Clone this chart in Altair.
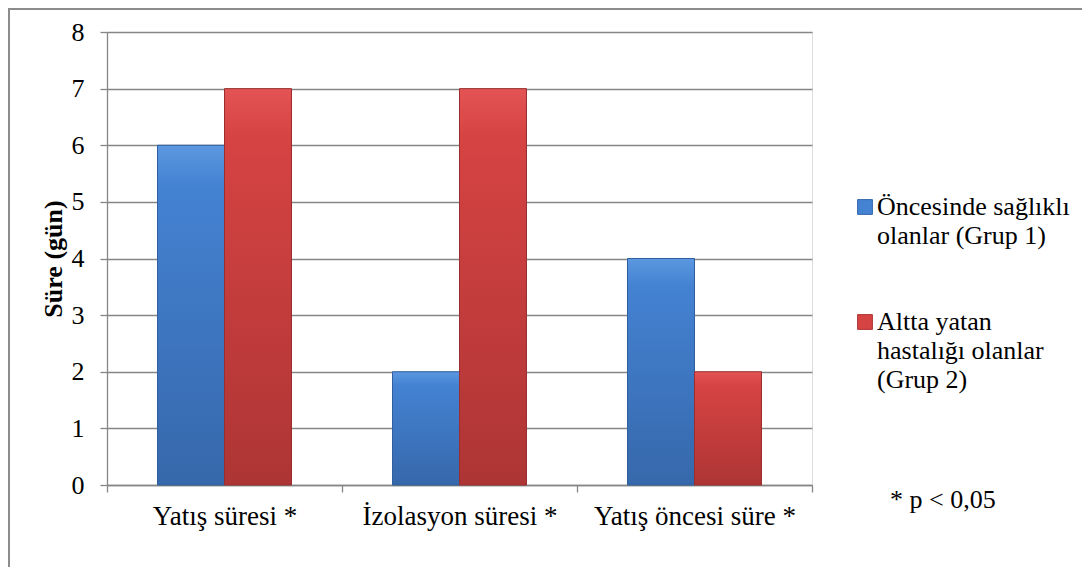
import altair as alt
import pandas as pd

categories = ["Yatış süresi *", "İzolasyon süresi *", "Yatış öncesi süre *"]
series = ["Öncesinde sağlıklı olanlar (Grup 1)", "Altta yatan hastalığı olanlar (Grup 2)"]
group1_values = [6, 2, 4]
group2_values = [7, 7, 2]
legend_lines = [["Öncesinde sağlıklı", "olanlar (Grup 1)"],
                ["Altta yatan", "hastalığı olanlar", "(Grup 2)"]]
y_ticks = [0, 1, 2, 3, 4, 5, 6, 7, 8]
note = "* p < 0,05"

FONT = "Liberation Serif"
FS = 26
BLUE_STOPS = ["#5c98e0", "#4482d2", "#3668ab"]
RED_STOPS = ["#e45454", "#d64343", "#ae3535"]

rows = []
for c, v in zip(categories, group1_values):
    rows.append({"kategori": c, "grup": series[0], "deger": v})
for c, v in zip(categories, group2_values):
    rows.append({"kategori": c, "grup": series[1], "deger": v})
df = pd.DataFrame(rows)

def grad(stops):
    return alt.Gradient(
        gradient="linear", x1=0, x2=0, y1=0, y2=1,
        stops=[alt.GradientStop(color=stops[0], offset=0),
               alt.GradientStop(color=stops[1], offset=0.12),
               alt.GradientStop(color=stops[2], offset=1)])

x_enc = alt.X("kategori:N", sort=categories, title=None,
              scale=alt.Scale(paddingInner=0, paddingOuter=0),
              axis=alt.Axis(labelAngle=0, tickBand="extent", grid=False, labelLimit=0,
                            labelFont=FONT, labelFontSize=27, labelColor="#000",
                            labelPadding=11, tickSize=7, tickColor="#868686",
                            domainColor="#868686", domainWidth=1.3, tickWidth=1.3))
y_enc = alt.Y("deger:Q", title="Süre (gün)",
              scale=alt.Scale(domain=[0, 8], nice=False),
              axis=alt.Axis(values=y_ticks, grid=True, gridColor="#868686", gridWidth=1.3,
                            labelFont=FONT, labelFontSize=FS, labelColor="#000",
                            labelPadding=16, tickSize=7, tickColor="#868686", tickWidth=1.3,
                            domainColor="#868686", domainWidth=1.3,
                            titleFont=FONT, titleFontSize=FS, titleFontWeight="bold",
                            titleColor="#000", titlePadding=5))
xo_enc = alt.XOffset("grup:N", sort=series,
                     scale=alt.Scale(domain=series, paddingInner=0, paddingOuter=0.754))

base = alt.Chart(df)
bars1 = base.transform_filter(alt.datum.grup == series[0]).mark_bar(
    fill=grad(BLUE_STOPS), stroke="#2f5f9e", strokeWidth=1
).encode(x=x_enc, y=y_enc, xOffset=xo_enc)
bars2 = base.transform_filter(alt.datum.grup == series[1]).mark_bar(
    fill=grad(RED_STOPS), stroke="#9a2e2e", strokeWidth=1
).encode(x=x_enc, y=y_enc, xOffset=xo_enc)

leg_df = pd.DataFrame({"grup": series, "lines": legend_lines})
leg_layers = []
sym_y = [175, 290]
for s, stops, ys in zip(series, [BLUE_STOPS, RED_STOPS], sym_y):
    sub = alt.Chart(leg_df).transform_filter(alt.datum.grup == s)
    leg_layers.append(sub.mark_point(shape="square", filled=True, size=220,
                                     color=stops[1], stroke=stops[2], strokeWidth=1, opacity=1)
                      .encode(x=alt.value(758), y=alt.value(ys)))
    leg_layers.append(sub.mark_text(font=FONT, fontSize=FS, align="left", baseline="alphabetic",
                                    lineHeight=29, color="#000")
                      .encode(x=alt.value(770), y=alt.value(ys + 8), text="lines:N"))

note_layer = alt.Chart(pd.DataFrame({"t": [note]})).mark_text(
    font=FONT, fontSize=FS, align="left", baseline="alphabetic", color="#000"
).encode(x=alt.value(783), y=alt.value(476), text="t:N")

frame = alt.Chart(pd.DataFrame({"t": [0]})).mark_rect(
    fill=None, stroke="#8c8c8c", strokeWidth=2
).encode(x=alt.value(-98), x2=alt.value(3000), y=alt.value(-23), y2=alt.value(3000))

chart = alt.layer(frame, bars1, bars2, *leg_layers, note_layer).properties(
    width=705, height=453,
    autosize=alt.AutoSizeParams(type="none"),
    padding={"left": 99, "top": 24, "right": 270, "bottom": 82},
).configure_view(stroke=None).configure(background="white")

chart.save("out.html", embed_options={"renderer": "svg", "actions": False})
